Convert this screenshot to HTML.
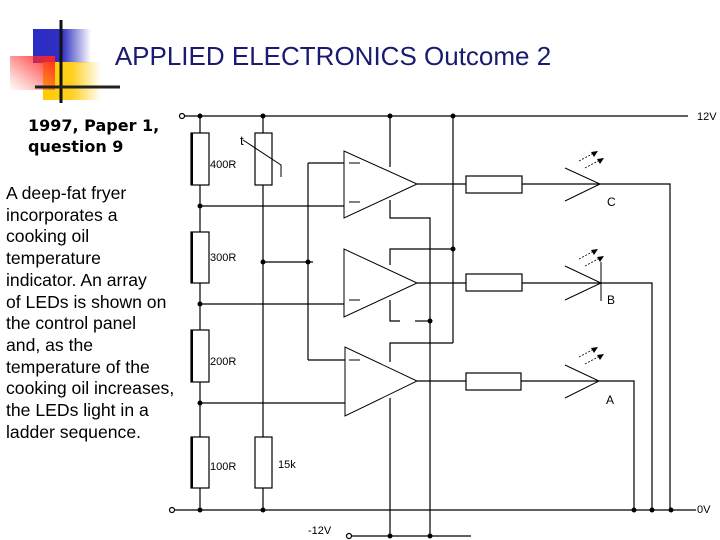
<!DOCTYPE html>
<html><head><meta charset="utf-8"><style>
html,body{margin:0;padding:0;background:#fff;}
svg{display:block;}
</style></head><body>
<svg width="720" height="540" viewBox="0 0 720 540" xmlns="http://www.w3.org/2000/svg">
<defs>
<linearGradient id="gb" x1="0" x2="1" y1="0" y2="0"><stop offset="0" stop-color="#2a2ac8"/><stop offset="0.5" stop-color="#3030c0"/><stop offset="1" stop-color="#3030c0" stop-opacity="0"/></linearGradient>
<linearGradient id="gy" x1="0" x2="1" y1="0" y2="0"><stop offset="0" stop-color="#ffcc00"/><stop offset="0.5" stop-color="#ffd020"/><stop offset="1" stop-color="#ffd020" stop-opacity="0"/></linearGradient>
<linearGradient id="gr" x1="1" x2="0" y1="0" y2="1"><stop offset="0" stop-color="#ff2020"/><stop offset="1" stop-color="#ff4040" stop-opacity="0"/></linearGradient>
</defs>
<rect x="33" y="29" width="58" height="34" fill="url(#gb)"/>
<rect x="43" y="62" width="58" height="38" fill="url(#gy)"/>
<rect x="10" y="56" width="45" height="34" fill="url(#gr)"/>
<line x1="61" y1="20" x2="61" y2="103" stroke="#111" stroke-width="3"/>
<line x1="35" y1="87" x2="120" y2="87" stroke="#222" stroke-width="3"/>
<text x="333" y="65" font-family="Liberation Sans, sans-serif" font-size="26" fill="#1a1a70" text-anchor="middle">APPLIED ELECTRONICS Outcome 2</text>
<g font-family="DejaVu Sans, Liberation Sans, sans-serif" font-size="16" font-weight="bold" fill="#000">
<text x="28" y="131">1997, Paper 1,</text>
<text x="28" y="152">question 9</text>
</g>
<g font-family="Liberation Sans, sans-serif" font-size="17.6" fill="#000">
<text x="6" y="199">A deep-fat fryer</text>
<text x="6" y="221">incorporates a</text>
<text x="6" y="242">cooking oil</text>
<text x="6" y="264">temperature</text>
<text x="6" y="286">indicator.  An array</text>
<text x="6" y="308">of LEDs is shown on</text>
<text x="6" y="329">the control panel</text>
<text x="6" y="351">and, as the</text>
<text x="6" y="373">temperature of the</text>
<text x="6" y="394">cooking oil increases,</text>
<text x="6" y="416">the LEDs light in a</text>
<text x="6" y="438">ladder sequence.</text>
</g>
<g stroke="#000" stroke-width="1.2" fill="none">
<line x1="185" y1="116" x2="688" y2="116"/>
<circle cx="182" cy="116" r="2.5"/>
<line x1="175" y1="510" x2="696" y2="510"/>
<circle cx="172" cy="510" r="2.5"/>
<line x1="352" y1="536" x2="471" y2="536"/>
<circle cx="349" cy="536" r="2.5"/>
<line x1="200" y1="116" x2="200" y2="510"/>
<rect x="191" y="133" width="18" height="52" fill="#fff"/>
<rect x="191" y="232" width="18" height="51" fill="#fff"/>
<rect x="191" y="330" width="18" height="52" fill="#fff"/>
<rect x="191" y="437" width="18" height="51" fill="#fff"/>
<line x1="192" y1="133" x2="192" y2="185" stroke-width="2"/>
<line x1="192" y1="232" x2="192" y2="283" stroke-width="2"/>
<line x1="192" y1="330" x2="192" y2="382" stroke-width="2"/>
<line x1="192" y1="437" x2="192" y2="488" stroke-width="2"/>
<line x1="263" y1="116" x2="263" y2="510"/>
<rect x="255" y="133" width="17" height="52" fill="#fff"/>
<rect x="255" y="437" width="17" height="51" fill="#fff"/>
<polyline points="243,140 281,165 281,177" stroke-width="1"/>
<line x1="263" y1="262" x2="313" y2="262"/>
<line x1="308" y1="163" x2="308" y2="360"/>
<line x1="308" y1="163" x2="344" y2="163"/>
<line x1="308" y1="360" x2="345" y2="360"/>
<line x1="200" y1="206" x2="344" y2="206"/>
<line x1="200" y1="304" x2="344" y2="304"/>
<line x1="200" y1="403" x2="345" y2="403"/>
<polygon points="344,151 344,218 417,184" fill="#fff" stroke-width="1"/>
<polygon points="344,249 344,317 417,283" fill="#fff" stroke-width="1"/>
<polygon points="345,347 345,416 417,381" fill="#fff" stroke-width="1"/>
<line x1="390" y1="116" x2="390" y2="167"/>
<line x1="453" y1="116" x2="453" y2="343"/>
<polyline points="390,200 390,218 430,218 430,536"/>
<polyline points="453,249 390,249 390,265"/>
<polyline points="390,300 390,321 400,321"/>
<line x1="415" y1="321" x2="430" y2="321"/>
<polyline points="453,343 390,343 390,362"/>
<line x1="390" y1="398" x2="390" y2="536"/>
<line x1="417" y1="184" x2="600" y2="184"/>
<polyline points="600,184 670,184 670,510"/>
<line x1="417" y1="283" x2="600" y2="283"/>
<polyline points="600,283 652,283 652,510"/>
<line x1="417" y1="381" x2="600" y2="381"/>
<polyline points="600,381 634,381 634,510"/>
<rect x="466" y="176" width="56" height="17" fill="#fff"/>
<rect x="466" y="274" width="56" height="17" fill="#fff"/>
<rect x="466" y="373" width="55" height="17" fill="#fff"/>
<g stroke-width="1">
<polyline points="565,168 600,184 565,201"/>
<polyline points="565,266 601,283 565,300"/>
<line x1="601" y1="262" x2="601" y2="301"/>
<polyline points="565,365 599,381 565,398"/>
</g>
<g stroke-width="0.8" stroke-dasharray="2,1.5">
<line x1="579" y1="161" x2="594" y2="153"/><line x1="585" y1="168" x2="600" y2="160"/>
<line x1="579" y1="259" x2="594" y2="251"/><line x1="585" y1="266" x2="600" y2="258"/>
<line x1="579" y1="357" x2="594" y2="349"/><line x1="585" y1="364" x2="600" y2="356"/>
</g>
</g>
<g fill="#000">
<polygon points="598,151 591,152 594,157"/><polygon points="604,158 597,159 600,164"/>
<polygon points="598,249 591,250 594,255"/><polygon points="604,256 597,257 600,262"/>
<polygon points="598,347 591,348 594,353"/><polygon points="604,354 597,355 600,360"/>
<circle cx="200" cy="116" r="2.5"/><circle cx="263" cy="116" r="2.5"/><circle cx="390" cy="116" r="2.5"/><circle cx="453" cy="116" r="2.5"/>
<circle cx="200" cy="206" r="2.5"/><circle cx="200" cy="304" r="2.5"/><circle cx="200" cy="403" r="2.5"/>
<circle cx="263" cy="262" r="2.5"/><circle cx="308" cy="262" r="2.5"/>
<circle cx="453" cy="249" r="2.5"/><circle cx="430" cy="321" r="2.5"/>
<circle cx="200" cy="510" r="2.5"/><circle cx="263" cy="510" r="2.5"/>
<circle cx="634" cy="510" r="2.5"/><circle cx="652" cy="510" r="2.5"/><circle cx="671" cy="510" r="2.5"/>
<circle cx="390" cy="536" r="2.5"/><circle cx="430" cy="536" r="2.5"/>
</g>
<g font-family="Liberation Sans, sans-serif" font-size="11" fill="#000">
<text x="210" y="168">400R</text>
<text x="210" y="261">300R</text>
<text x="210" y="365">200R</text>
<text x="210" y="470">100R</text>
<text x="278" y="468">15k</text>
<text x="240" y="145" font-size="13">t</text>
<text x="697" y="120">12V</text>
<text x="697" y="513">0V</text>
<text x="308" y="534">-12V</text>
<text x="607" y="206" font-size="12">C</text>
<text x="607" y="304" font-size="12">B</text>
<text x="606" y="404" font-size="12">A</text>
</g>
<g stroke="#000" stroke-width="1">
<line x1="349" y1="163" x2="360" y2="163"/><line x1="349" y1="202" x2="360" y2="202"/>
<line x1="349" y1="300" x2="360" y2="300"/><line x1="349" y1="360" x2="360" y2="360"/>
</g>
</svg>
</body></html>
